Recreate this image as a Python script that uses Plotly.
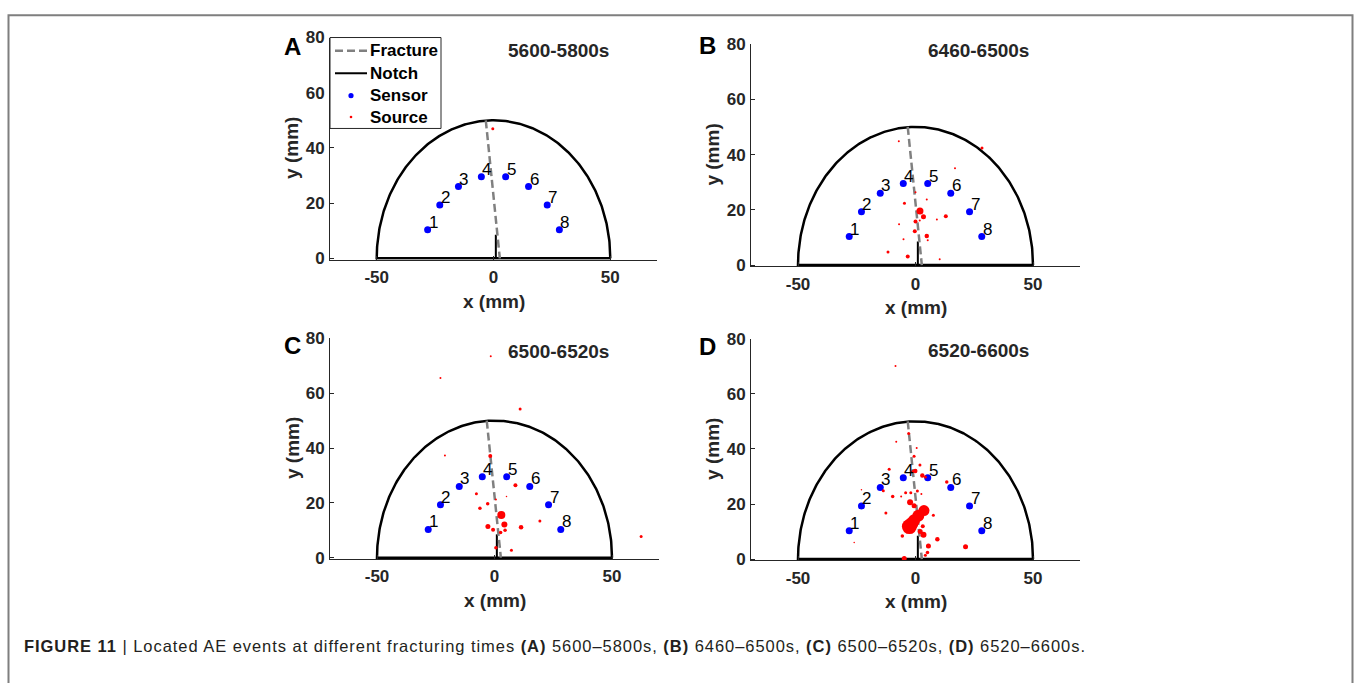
import numpy as np
import plotly.graph_objects as go

W, H = 1354, 683
FONT = "Liberation Sans, Arial, sans-serif"
AX_COLOR = "#262626"

# ---- panel text ----
panel_letters = ["A", "B", "C", "D"]
panel_windows = ["5600-5800s", "6460-6500s", "6500-6520s", "6520-6600s"]

# ---- axis ticks ----
x_tick_vals = [-50, 0, 50]
x_tick_text = ["-50", "0", "50"]
y_tick_vals = [0, 20, 40, 60, 80]
y_tick_text = ["0", "20", "40", "60", "80"]

# ---- legend labels ----
legend_labels = ["Fracture", "Notch", "Sensor", "Source"]

# ---- specimen geometry (mm) ----
specimen_radius = 50
notch_x = [1.0, 1.0]
notch_y = [0.0, 8.5]
fracture_x = [-3.3, 2.7]
fracture_y = [50.0, 0.0]

# ---- AE sensors (mm) ----
sensor_ids = ["1", "2", "3", "4", "5", "6", "7", "8"]
sensor_x = [-28.2, -23.0, -15.0, -5.2, 5.2, 15.0, 23.0, 28.2]
sensor_y = [10.3, 19.3, 26.0, 29.5, 29.5, 26.0, 19.3, 10.3]

# ---- located AE sources: x, y (mm) and marker diameter (px) ----
src_x_a = [-0.3]
src_y_a = [46.9]
src_d_a = [3]

src_x_b = [-7.1, 28.3, 16.8, 0.0, 4.8, -4.7, 1.9, 3.4, 12.9, 0.0,
           1.8, 9.1, -7.0, -0.3, 4.8, 5.2, -5.1, -11.7, -3.3, 10.3]
src_y_b = [44.8, 42.4, 35.0, 26.4, 23.7, 22.4, 19.6, 17.5, 17.7, 15.8,
           16.1, 16.5, 14.8, 12.2, 10.5, 9.0, 9.3, 4.7, 3.1, 2.1]
src_d_b = [2, 3, 2, 2, 2, 3, 7, 5, 4, 4,
           2, 2, 2, 4, 4.5, 2, 2, 3, 4, 2]

src_x_c = [-1.6, -23.0, 10.9, -21.1, -1.8, 8.9, -7.7, 0.6, 5.1, -2.9, -6.2,
           2.9, 19.3, 4.2, -2.8, 11.3, -0.6, 4.5, 2.6, 0.6, 7.2, 62.4]
src_y_c = [73.5, 65.5, 54.2, 37.3, 37.1, 26.4, 23.3, 21.2, 22.3, 19.7, 18.0,
           15.6, 13.4, 12.1, 11.4, 11.1, 10.2, 10.0, 9.2, 3.6, 2.7, 7.7]
src_d_c = [2, 2, 3, 2, 4, 4, 3, 2, 1.5, 3.5, 3.5,
           8, 3, 6, 5, 4.5, 4, 3.5, 3.5, 3.5, 3, 3]

src_x_d = [-8.5, -2.9, -8.2, 0.5, -0.6, 1.9, -11.2, -0.1, -1.2, 2.9, 4.2,
           13.3, -13.7, -23.0, -9.7, -6.1, -4.2, -2.0, 2.5, 0.8, -2.3, -0.6,
           -2.6, -1.5, -0.6, 1.2, 3.6, 2.0, 7.6, -12.6, 3.1, 3.4, -5.6, 9.3,
           5.5, 21.3, 5.1, 4.2, -4.8, -26.1]
src_y_d = [70.1, 45.6, 42.6, 40.3, 37.3, 34.2, 32.6, 32.0, 31.8, 30.3, 29.8,
           28.0, 24.8, 25.2, 22.7, 22.7, 24.1, 24.1, 23.6, 24.7, 20.6, 19.4,
           11.8, 13.0, 14.1, 15.7, 17.6, 10.0, 15.9, 16.7, 11.9, 8.8, 8.4, 7.2,
           4.8, 4.5, 2.4, 1.4, 0.2, 6.0]
src_d_d = [2, 3, 2, 2, 3, 3, 3, 4.5, 3, 4.5, 3,
           3.5, 3, 1.5, 3.5, 2, 3, 3, 2, 3, 6, 5,
           15, 13, 12, 12, 11, 5, 3, 3, 4, 6, 3.5, 4.5,
           5, 5, 3.5, 3, 5, 1.5]

sources = [
    (src_x_a, src_y_a, src_d_a),
    (src_x_b, src_y_b, src_d_b),
    (src_x_c, src_y_c, src_d_c),
    (src_x_d, src_y_d, src_d_d),
]

# ---- subplot placement in pixels: left, right, y=80 row, y=0 row ----
panel_px = [
    (330, 657, 29.3, 256.0),
    (751, 1080, 36.0, 263.0),
    (330, 659, 338.3, 563.5),
    (751, 1080, 338.6, 565.0),
]
letter_px = [(292, 39), (707.5, 37), (292, 346), (707, 347)]
window_px = [(558, 43), (978, 43), (558, 352), (978, 351)]

Y_MIN = -0.5


def fx(p):
    return p / W


def fy(p):
    return 1 - p / H


# specimen outline: half disc closed by its flat face
theta = np.linspace(0, np.pi, 241)
arc_x = np.append(specimen_radius * np.cos(theta), specimen_radius)
arc_y = np.append(specimen_radius * np.sin(theta), 0.0)

fig = go.Figure()
annotations = []
shapes = []

for i in range(4):
    n = "" if i == 0 else str(i + 1)
    xa, ya = "x" + n, "y" + n
    left, right, top, zero = panel_px[i]
    unit = (zero - top) / 80.0
    bottom = zero - Y_MIN * unit

    fig.update_layout(**{
        "xaxis" + n: dict(
            domain=[fx(left), fx(right)], range=[-70, 70], anchor=ya,
            tickvals=x_tick_vals, ticktext=x_tick_text,
            ticks="inside", ticklen=4, tickwidth=1, tickcolor=AX_COLOR,
            showline=True, linecolor=AX_COLOR, linewidth=1,
            showgrid=False, zeroline=False, ticklabelstandoff=2,
            tickfont=dict(family=FONT, size=17, color=AX_COLOR, weight="bold"),
        ),
        "yaxis" + n: dict(
            domain=[fy(bottom), fy(top)], range=[Y_MIN, 80], anchor=xa,
            tickvals=y_tick_vals, ticktext=y_tick_text,
            ticks="inside", ticklen=4, tickwidth=1, tickcolor=AX_COLOR,
            showline=True, linecolor=AX_COLOR, linewidth=1,
            showgrid=False, zeroline=False, ticklabelstandoff=1,
            tickfont=dict(family=FONT, size=17, color=AX_COLOR, weight="bold"),
        ),
    })

    fig.add_trace(go.Scatter(x=arc_x, y=arc_y, mode="lines", xaxis=xa, yaxis=ya,
                             line=dict(color="black", width=2.5),
                             showlegend=False, hoverinfo="skip"))
    fig.add_trace(go.Scatter(x=notch_x, y=notch_y, mode="lines", xaxis=xa, yaxis=ya,
                             line=dict(color="black", width=2),
                             showlegend=False, hoverinfo="skip", name="Notch"))
    fig.add_trace(go.Scatter(x=fracture_x, y=fracture_y, mode="lines", xaxis=xa, yaxis=ya,
                             line=dict(color="#808080", width=2.5, dash="8px,4px"),
                             showlegend=False, hoverinfo="skip", name="Fracture"))
    fig.add_trace(go.Scatter(x=sensor_x, y=sensor_y, mode="markers", xaxis=xa, yaxis=ya,
                             marker=dict(color="#0000ff", size=7, opacity=1, line=dict(width=0)),
                             showlegend=False, name="Sensor"))
    sx, sy, sd = sources[i]
    fig.add_trace(go.Scatter(x=sx, y=sy, mode="markers", xaxis=xa, yaxis=ya,
                             marker=dict(color="#ff0000", size=sd, opacity=1, line=dict(width=0)),
                             cliponaxis=False, showlegend=False, name="Source"))

    # sensor numbers
    for sid, px_, py_ in zip(sensor_ids, sensor_x, sensor_y):
        annotations.append(dict(
            x=px_, y=py_, xref=xa, yref=ya, text=sid, showarrow=False,
            xanchor="left", yanchor="bottom", xshift=-1, yshift=-4,
            font=dict(family=FONT, size=17, color="black"),
        ))

    # panel letter and time window
    lx, ly = letter_px[i]
    annotations.append(dict(x=fx(lx), y=fy(ly), xref="paper", yref="paper",
                            text=panel_letters[i], showarrow=False,
                            xanchor="center", yanchor="middle",
                            font=dict(family=FONT, size=24, color="black", weight="bold")))
    wx, wy = window_px[i]
    annotations.append(dict(x=fx(wx), y=fy(wy), xref="paper", yref="paper",
                            text=panel_windows[i], showarrow=False,
                            xanchor="center", yanchor="middle",
                            font=dict(family=FONT, size=19, color=AX_COLOR, weight="bold")))

    # axis titles
    annotations.append(dict(x=fx((left + right) / 2), y=fy(zero + 44), xref="paper", yref="paper",
                            text="x (mm)", showarrow=False,
                            xanchor="center", yanchor="middle",
                            font=dict(family=FONT, size=19, color=AX_COLOR, weight="bold")))
    annotations.append(dict(x=fx(left - 38), y=fy((top + zero) / 2), xref="paper", yref="paper",
                            text="y (mm)", showarrow=False, textangle=-90,
                            xanchor="center", yanchor="middle",
                            font=dict(family=FONT, size=19, color=AX_COLOR, weight="bold")))

# legend box in panel A
LEG_L, LEG_R, LEG_T, LEG_B = 330, 441, 29.3, 122.7
row_y = [43, 66, 89, 111]
shapes.append(dict(type="rect", xref="paper", yref="paper",
                   x0=fx(LEG_L), x1=fx(LEG_R), y0=fy(LEG_B), y1=fy(LEG_T),
                   line=dict(color=AX_COLOR, width=1), fillcolor="white", layer="above"))
shapes.append(dict(type="line", xref="paper", yref="paper",
                   x0=fx(335), x1=fx(367), y0=fy(row_y[0]), y1=fy(row_y[0]),
                   line=dict(color="#808080", width=2.5, dash="8px,4px"), layer="above"))
shapes.append(dict(type="line", xref="paper", yref="paper",
                   x0=fx(335), x1=fx(367), y0=fy(row_y[1]), y1=fy(row_y[1]),
                   line=dict(color="black", width=2), layer="above"))
for ry, col, r in [(row_y[2], "#0000ff", 2.6), (row_y[3], "#ff0000", 1.3)]:
    shapes.append(dict(type="circle", xref="paper", yref="paper",
                       x0=fx(351 - r), x1=fx(351 + r), y0=fy(ry + r), y1=fy(ry - r),
                       line=dict(width=0), fillcolor=col, layer="above"))
for lab, ry in zip(legend_labels, row_y):
    annotations.append(dict(x=fx(368), y=fy(ry), xref="paper", yref="paper",
                            text=lab, showarrow=False, xanchor="left", yanchor="middle",
                            font=dict(family=FONT, size=17, color="black", weight="bold")))

# caption
caption = ("<b>FIGURE 11</b> | Located AE events at different fracturing times "
           "<b>(A)</b> 5600–5800s, <b>(B)</b> 6460–6500s, "
           "<b>(C)</b> 6500–6520s, <b>(D)</b> 6520–6600s.")
annotations.append(dict(
    x=fx(22), y=fy(654), xref="paper", yref="paper", showarrow=False,
    xanchor="left", yanchor="middle",
    text='<span style="letter-spacing:0.95px">' + caption + "</span>",
    font=dict(family=FONT, size=16.5, color="#231f20"),
))

# outer frame
shapes.append(dict(type="rect", xref="paper", yref="paper",
                   x0=fx(8.5), x1=fx(1352.5), y0=-0.05, y1=fy(6.5),
                   line=dict(color="#7f7f7f", width=2), layer="above"))

fig.update_layout(
    width=W, height=H,
    margin=dict(l=0, r=0, t=0, b=0),
    paper_bgcolor="white", plot_bgcolor="white",
    annotations=annotations,
    shapes=shapes,
    showlegend=False,
)

fig.write_html("out.html")
